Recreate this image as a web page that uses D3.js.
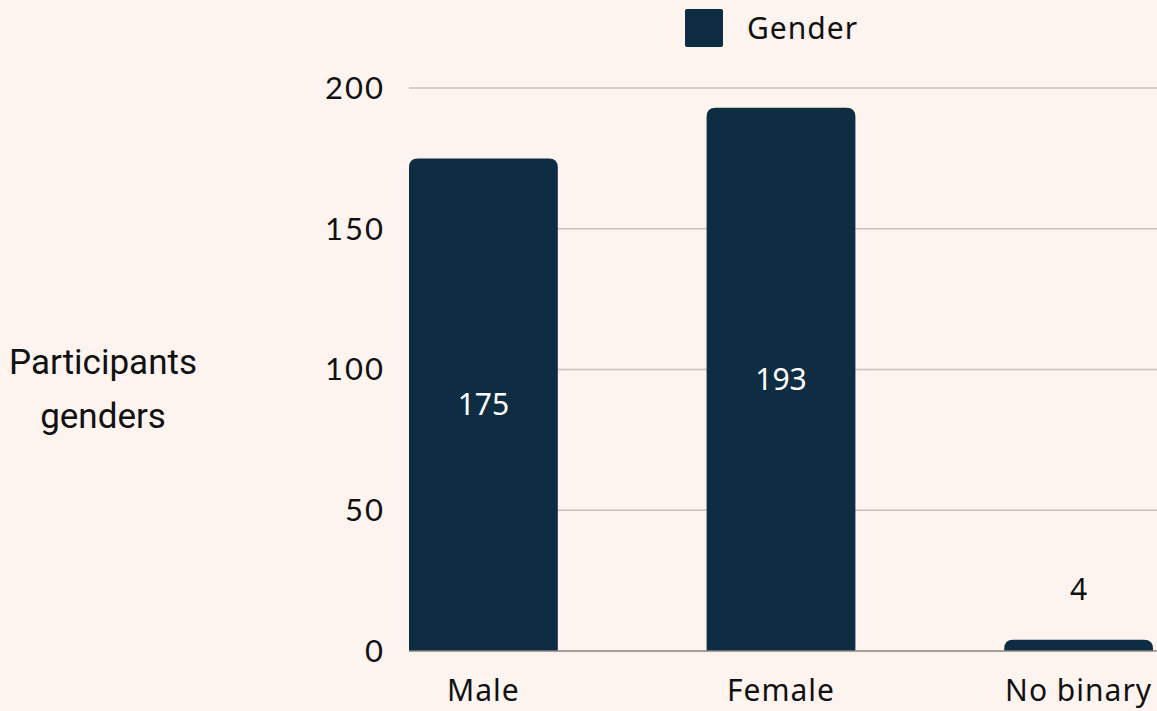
<!DOCTYPE html>
<html>
  <head>
    <meta http-equiv="Content-Type" content="text/html;charset=utf-8">
    <title>Participants genders</title>
    <script type="text/javascript" src="https://d3js.org/d3.v7.min.js"></script>
    <style>
      html, body {
        margin: 0;
        padding: 0;
        background: #fdf4ef;
      }
      text { fill: #111; }
      .grid line { stroke: #c9c0bb; stroke-width: 1.5px; }
      .tick-label { font-family: "Lato", sans-serif; font-size: 31px; letter-spacing: 2px; }
      .cat-label { font-family: "Noto Sans", sans-serif; font-size: 30px; letter-spacing: 1px; }
      .val-label { font-family: "Noto Sans", sans-serif; font-size: 30px; }
      .title { font-family: "Roboto", sans-serif; font-size: 35px; }
    </style>
  </head>
  <body>
    <script type="text/javascript">

var categories = ["Male", "Female", "No binary"];
var values = [175, 193, 4];
var yTicks = [0, 50, 100, 150, 200];
var seriesName = "Gender";

var W = 1157, H = 711;
var barColor = "#0e2c42";

var svg = d3.select("body").append("svg")
  .attr("width", W).attr("height", H)
  .style("display", "block");

var y = d3.scaleLinear().domain([0, 200]).range([651, 88]);

var x = d3.scaleBand()
  .domain(categories)
  .range([409, 1153])
  .paddingInner(0.5)
  .paddingOuter(0);

// gridlines
var grid = svg.append("g").attr("class", "grid");
grid.selectAll("line")
  .data(yTicks.filter(function(d) { return d > 0; }))
  .enter().append("line")
  .attr("x1", 409).attr("x2", W)
  .attr("y1", function(d) { return y(d); })
  .attr("y2", function(d) { return y(d); });

// tick labels
svg.selectAll(".tick-label")
  .data(yTicks)
  .enter().append("text")
  .attr("class", "tick-label")
  .attr("x", 385)
  .attr("y", function(d) { return y(d); })
  .attr("dy", "0.35em")
  .attr("text-anchor", "end")
  .text(function(d) { return d; });

// bars with rounded top corners
function barPath(x0, w, top, bottom, r) {
  r = Math.min(r, w / 2, bottom - top);
  return "M" + x0 + "," + bottom +
    "V" + (top + r) +
    "Q" + x0 + "," + top + " " + (x0 + r) + "," + top +
    "H" + (x0 + w - r) +
    "Q" + (x0 + w) + "," + top + " " + (x0 + w) + "," + (top + r) +
    "V" + bottom + "Z";
}

svg.selectAll(".bar")
  .data(values)
  .enter().append("path")
  .attr("class", "bar")
  .attr("fill", barColor)
  .attr("d", function(d, i) {
    return barPath(x(categories[i]), x.bandwidth(), y(d), y(0), 9);
  });

// baseline
svg.append("line")
  .attr("x1", 409).attr("x2", W)
  .attr("y1", y(0)).attr("y2", y(0))
  .attr("stroke", "#8a8380").attr("stroke-width", 1.5);

// value labels
svg.selectAll(".val-label")
  .data(values)
  .enter().append("text")
  .attr("class", "val-label")
  .attr("x", function(d, i) { return x(categories[i]) + x.bandwidth() / 2; })
  .attr("y", function(d) {
    var h = y(0) - y(d);
    return h > 40 ? (y(d) + y(0)) / 2 : y(d) - 50;
  })
  .attr("dy", "0.35em")
  .attr("text-anchor", "middle")
  .style("fill", function(d) { return (y(0) - y(d)) > 40 ? "#fff" : "#111"; })
  .text(function(d) { return d; });

// category labels
svg.selectAll(".cat-label")
  .data(categories)
  .enter().append("text")
  .attr("class", "cat-label")
  .attr("x", function(d) { return x(d) + x.bandwidth() / 2; })
  .attr("y", 701)
  .attr("text-anchor", "middle")
  .text(function(d) { return d; });

// y title
var title = svg.append("text")
  .attr("class", "title")
  .attr("text-anchor", "middle")
  .attr("transform", "translate(103,0)");
title.append("tspan").attr("x", 0).attr("y", 374).text("Participants");
title.append("tspan").attr("x", 0).attr("y", 428).text("genders");

// legend
svg.append("rect")
  .attr("x", 685).attr("y", 9)
  .attr("width", 38).attr("height", 38)
  .attr("rx", 2)
  .attr("fill", barColor);
svg.append("text")
  .attr("class", "cat-label")
  .attr("x", 747).attr("y", 28)
  .attr("dy", "0.35em")
  .text(seriesName);

    </script>
  </body>
</html>
